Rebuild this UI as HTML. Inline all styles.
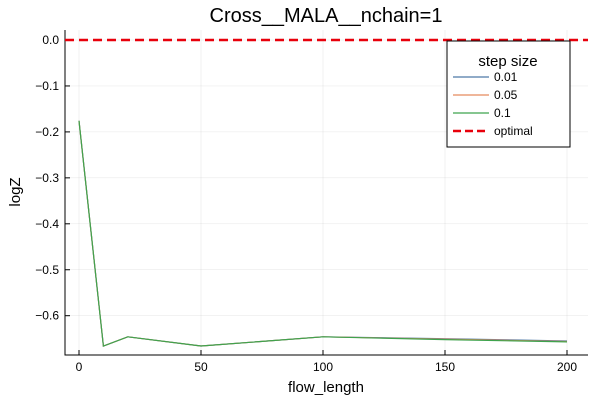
<!DOCTYPE html>
<html><head><meta charset="utf-8"><style>
body{margin:0;background:#fff;font-family:"Liberation Sans",sans-serif}
</style></head><body>
<svg id="c" width="600" height="400" xmlns="http://www.w3.org/2000/svg" font-family="Liberation Sans, sans-serif">
<rect width="600" height="400" fill="#fff"/>
<text x="326" y="22" font-size="20" text-anchor="middle">Cross__MALA__nchain=1</text>
<g id="grid"></g>
<g id="axes"></g>
<g id="series"></g>
<text x="326" y="392" font-size="15" text-anchor="middle">flow_length</text>
<text transform="translate(20,192) rotate(-90)" font-size="15" text-anchor="middle">logZ</text>
<g>
<rect x="447" y="41" width="123" height="106" fill="#fff" stroke="#000" stroke-width="1"/>
<text x="508" y="66" font-size="15" text-anchor="middle">step size</text>
<line x1="453" y1="77" x2="489" y2="77" stroke="#4e79a7" stroke-width="1.2"/><text x="494" y="81" font-size="12">0.01</text>
<line x1="453" y1="95" x2="489" y2="95" stroke="#e58a5e" stroke-width="1.2"/><text x="494" y="99" font-size="12">0.05</text>
<line x1="453" y1="113" x2="489" y2="113" stroke="#3fa34d" stroke-width="1.2"/><text x="494" y="117" font-size="12">0.1</text>
<line x1="453" y1="131" x2="489" y2="131" stroke="#e8000b" stroke-width="2.5" stroke-dasharray="8,4"/><text x="494" y="135" font-size="12">optimal</text>
</g>
</svg>
<script>
const xs=[0,10,20,50,100,150,200];
const s001=[-0.176,-0.666,-0.646,-0.666,-0.646,-0.650,-0.655];
const s005=[-0.176,-0.666,-0.646,-0.666,-0.646,-0.651,-0.656];
const s01=[-0.176,-0.666,-0.646,-0.666,-0.646,-0.652,-0.657];
const optimal=0.0;
const xTicks=[0,50,100,150,200];
const yTicks=[0.0,-0.1,-0.2,-0.3,-0.4,-0.5,-0.6];
const L=65,R=588,T=30,B=355;
const X=v=>79+(v-0)*(567-79)/200;
const Y=v=>40+(0-v)*(315.7-40)/0.6;
const NS="http://www.w3.org/2000/svg";
function mk(p,t,a){const e=document.createElementNS(NS,t);for(const k in a)e.setAttribute(k,a[k]);p.appendChild(e);return e;}
const grid=document.getElementById('grid'),axes=document.getElementById('axes'),ser=document.getElementById('series');
xTicks.forEach(v=>{
 const g=mk(grid,'line',{x1:X(v),x2:X(v),y1:T,y2:B,stroke:'#000','stroke-opacity':0.1,'stroke-width':0.5});
 
 
 mk(axes,'line',{x1:X(v),x2:X(v),y1:B,y2:B-5,stroke:'#000'});
 const t=mk(axes,'text',{x:X(v),y:B+16,'font-size':12,'text-anchor':'middle'});t.textContent=v;
 
 
});
yTicks.forEach(v=>{
 const g=mk(grid,'line',{x1:L,x2:R,y1:Y(v),y2:Y(v),stroke:'#000','stroke-opacity':0.1,'stroke-width':0.5});
 
 
 mk(axes,'line',{x1:L,x2:L+5,y1:Y(v),y2:Y(v),stroke:'#000'});
 const t=mk(axes,'text',{x:L-6,y:Y(v)+4,'font-size':12,'text-anchor':'end'});t.textContent=v.toFixed(1).replace('-','\u2212');
 
 
});
const ax=mk(axes,'path',{d:`M${L},${T}V${B}H${R}`,fill:'none',stroke:'#000','stroke-width':1});


[[s001,'#4e79a7','series-0.01'],[s005,'#e58a5e','series-0.05'],[s01,'#3fa34d','series-0.1']].forEach(([d,c,n])=>{
 const p=mk(ser,'polyline',{points:d.map((v,i)=>X(xs[i])+','+Y(v)).join(' '),fill:'none',stroke:c,'stroke-width':1.2});
 
 
});
const o=mk(ser,'line',{x1:L,x2:R,y1:Y(optimal),y2:Y(optimal),stroke:'#e8000b','stroke-width':2.5,'stroke-dasharray':'9,5'});


</script>
</body></html>
